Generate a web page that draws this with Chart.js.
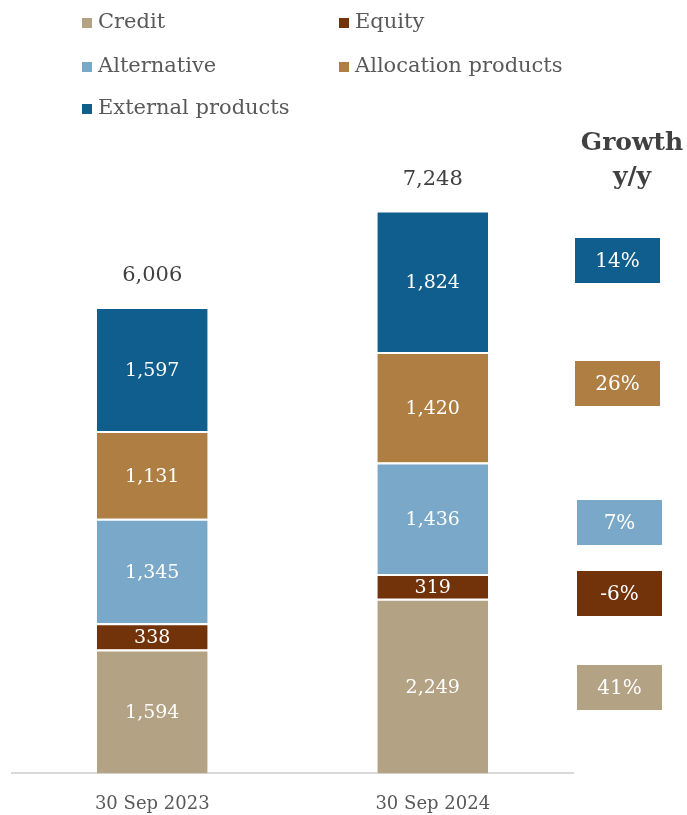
<!DOCTYPE html>
<html>
<head>
<meta charset="utf-8">
<script src="https://cdn.jsdelivr.net/npm/chart.js@4.4.1/dist/chart.umd.min.js"></script>
<style>
  html, body { margin: 0; padding: 0; background: #fff; }
  #wrap { position: relative; width: 687px; height: 815px; }
</style>
</head>
<body>
<div id="wrap"><canvas id="aum-chart" width="687" height="815"></canvas></div>
<script>
const categories = ['30 Sep 2023', '30 Sep 2024'];
const seriesNames = ['Credit', 'Equity', 'Alternative', 'Allocation products', 'External products'];
const credit = [1594, 2249];
const equity = [338, 319];
const alternative = [1345, 1436];
const allocation = [1131, 1420];
const external = [1597, 1824];
const totals = [6006, 7248];
const growth = ['41%', '-6%', '7%', '26%', '14%'];

const colors = ['#B3A283', '#72330A', '#7AA8C8', '#AF7E42', '#0F5E8D'];
const FONT = '"DejaVu Serif", Georgia, serif';

// legend slots: two columns, three rows (order: Credit, Equity, Alternative, Allocation, External)
const legendSlots = [[82, 23], [339, 23], [82, 67], [339, 67], [82, 109]];
// growth boxes, drawn bottom-to-top in series order
const growthBoxes = [[577, 665], [577, 571], [577, 500], [575, 361], [575, 238]];

const fmt = v => v.toLocaleString('en-US');

const overlay = {
  id: 'overlay',
  afterDatasetsDraw(chart) {
    const ctx = chart.ctx;
    ctx.save();
    ctx.textAlign = 'center';
    ctx.textBaseline = 'middle';

    // values inside the segments
    ctx.fillStyle = '#ffffff';
    ctx.font = '19px ' + FONT;
    chart.data.datasets.forEach((ds, i) => {
      chart.getDatasetMeta(i).data.forEach((bar, j) => {
        const p = bar.getProps(['x', 'y', 'base'], true);
        ctx.fillText(fmt(ds.data[j]), p.x, (p.y + p.base) / 2 + 2);
      });
    });

    // totals above the stacks
    const top = chart.getDatasetMeta(chart.data.datasets.length - 1).data;
    ctx.fillStyle = '#404040';
    ctx.font = '21px ' + FONT;
    top.forEach((bar, j) => {
      ctx.fillText(fmt(totals[j]), bar.x, bar.y - 31);
    });

    // legend
    ctx.textAlign = 'left';
    ctx.font = '21px ' + FONT;
    seriesNames.forEach((name, i) => {
      const [x, y] = legendSlots[i];
      ctx.fillStyle = colors[i];
      ctx.fillRect(x, y - 5, 10, 10);
      ctx.fillStyle = '#595959';
      ctx.fillText(name, x + 16, y);
    });

    // growth column
    ctx.textAlign = 'center';
    ctx.fillStyle = '#404040';
    ctx.font = 'bold 25px ' + FONT;
    ctx.fillText('Growth', 632, 143);
    ctx.fillText('y/y', 632, 177);
    ctx.font = '20px ' + FONT;
    growth.forEach((g, i) => {
      const [x, y] = growthBoxes[i];
      ctx.fillStyle = colors[i];
      ctx.fillRect(x, y, 85, 45);
      ctx.fillStyle = '#ffffff';
      ctx.fillText(g, x + 42.5, y + 24);
    });
    ctx.restore();
  }
};

const seriesData = [credit, equity, alternative, allocation, external];

new Chart(document.getElementById('aum-chart'), {
  type: 'bar',
  data: {
    labels: categories,
    datasets: seriesNames.map((name, i) => ({
      label: name,
      data: seriesData[i],
      backgroundColor: colors[i],
      borderColor: '#ffffff',
      borderWidth: { top: 2, bottom: 0, left: 0, right: 0 },
      borderSkipped: false,
      barPercentage: 0.79,
      categoryPercentage: 0.5
    }))
  },
  options: {
    responsive: false,
    animation: false,
    layout: { padding: { top: 152, left: 12, right: 114, bottom: -20 } },
    plugins: {
      legend: { display: false },
      tooltip: { enabled: false }
    },
    scales: {
      x: {
        stacked: true,
        grid: { display: false, drawTicks: false },
        border: { display: true, color: '#d9d9d9', width: 2 },
        ticks: { color: '#595959', font: { family: FONT, size: 18 }, padding: 20 }
      },
      y: {
        stacked: true,
        display: false,
        min: 0,
        max: 8000
      }
    }
  },
  plugins: [overlay]
});
</script>
</body>
</html>
